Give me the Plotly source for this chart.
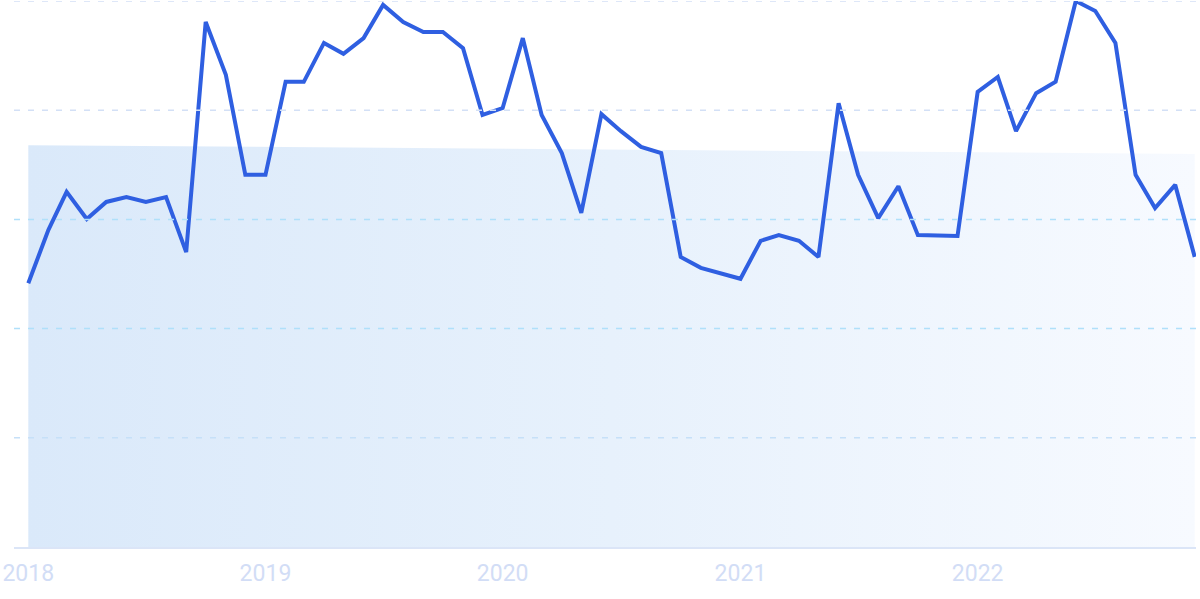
import plotly.graph_objects as go
import pandas as pd

# Monthly dates Jan 2018 - Dec 2022
dates = pd.date_range("2018-01-01", "2022-12-01", freq="MS").strftime("%Y-%m-%d").tolist()

# Pixel-read values (0..125 scale, gridline every 25)
ypix = [283, 230, 192, 219, 202, 197, 202, 197, 252, 22, 75, 175,
        175, 82, 82, 43, 54, 38, 5, 22, 32, 32, 48, 115,
        108, 38, 115, 153, 213, 114, 131, 147, 153, 257, 268, 273,
        279, 241, 235, 241, 257, 103, 175, 218, 186, 235, 235, 236,
        92, 77, 131, 93, 82, 1, 11, 43, 175, 208, 185, 257]
values = [round((547 - p) / 546 * 125, 1) for p in ypix]

trend_dates = [dates[0], dates[-1]]
trend_values = [92.0, 90.0]

grid_values = [25, 50, 75, 100, 125]
grid_colors = ["#c6e0f8", "#b0e0fa", "#b0e0fa", "#d3e0f6", "#d3e0f6"]

tick_vals = ["2018-01-01", "2019-01-01", "2020-01-01", "2021-01-01", "2022-01-01"]
tick_text = ["2018", "2019", "2020", "2021", "2022"]

fig = go.Figure()

fig.add_trace(go.Scatter(
    x=trend_dates, y=trend_values, mode="lines",
    line=dict(width=0, color="rgba(0,0,0,0)"),
    fill="tozeroy",
    fillgradient=dict(type="horizontal",
                      colorscale=[[0, "rgba(218,233,250,1)"], [0.5, "rgba(231,241,252,1)"], [1, "rgba(247,250,255,1)"]]),
    hoverinfo="skip", showlegend=False,
))

fig.add_trace(go.Scatter(
    x=dates, y=values, mode="lines",
    line=dict(color="#2f5fe1", width=4),
    showlegend=False, cliponaxis=False,
))

shapes = []
for gv, gc in zip(grid_values, grid_colors):
    shapes.append(dict(type="line", xref="paper", yref="y", x0=0, x1=1, y0=gv, y1=gv,
                       line=dict(color=gc, width=1.5, dash="6px,8px"), layer="above"))

fig.update_layout(
    width=1200, height=599,
    margin=dict(l=14, r=4, t=1, b=52, autoexpand=False),
    paper_bgcolor="white", plot_bgcolor="white",
    font=dict(family="Roboto", size=23, color="#d2ddf6"),
    shapes=shapes,
)
fig.update_xaxes(
    range=["2017-12-10", "2022-12-03"],
    tickvals=tick_vals, ticktext=tick_text,
    showgrid=False, zeroline=False, automargin=False,
    showline=True, linecolor="#dbe5f7", linewidth=1.5,
    ticks="", ticklen=0, ticklabelstandoff=5,
    tickfont=dict(size=23, color="#d2ddf6"),
)
fig.update_yaxes(
    range=[0, 125],
    showticklabels=False, zeroline=False, showgrid=False, automargin=False,
)

fig.write_html(
    "out.html",
    config={"displayModeBar": False},
    post_script="document.body.style.margin='0';document.body.style.overflow='hidden';",
)
